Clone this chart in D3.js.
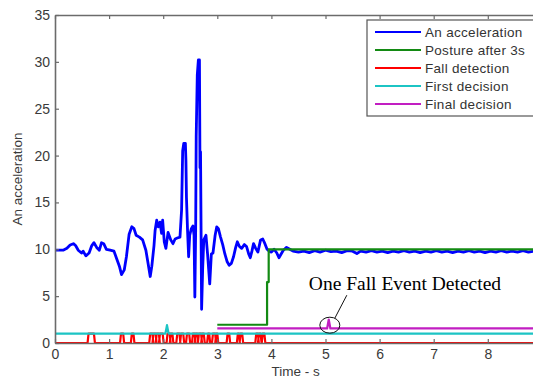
<!DOCTYPE html>
<html>
<head>
<meta charset="utf-8">
<script src="https://cdn.jsdelivr.net/npm/d3@7"></script>
<style>
  body { margin: 0; background: #fff; }
  svg { display: block; font-family: "Liberation Sans", Arial, sans-serif; }
</style>
</head>
<body>
<svg id="chart" width="533" height="380"></svg>
<script>
// acceleration trace [time s, value]
const accel = [
  [0, 9.9], [0.03, 9.9], [0.15, 9.9], [0.22, 10.1], [0.28, 10.45], [0.34, 10.6], [0.38, 10.4],
  [0.43, 9.9], [0.49, 9.6], [0.52, 9.8], [0.57, 9.3], [0.63, 9.6], [0.68, 10.4], [0.72, 10.7],
  [0.77, 10.2], [0.82, 9.9], [0.86, 10.7], [0.9, 10.6], [0.95, 10.0], [1.02, 9.9], [1.09, 9.8],
  [1.14, 9.0], [1.19, 8.2], [1.23, 7.3], [1.28, 7.8], [1.32, 9.2], [1.37, 11.6], [1.42, 12.4],
  [1.46, 12.2], [1.5, 11.5], [1.56, 11.3], [1.62, 11.0], [1.68, 9.9], [1.72, 8.5], [1.76, 7.1],
  [1.79, 8.2], [1.83, 10.4], [1.85, 12.0], [1.88, 13.1], [1.91, 12.4], [1.94, 12.9], [1.97, 11.7],
  [1.99, 13.1], [2.02, 10.8], [2.05, 10.1], [2.09, 11.8], [2.14, 11.0], [2.18, 10.6], [2.22, 11.1],
  [2.26, 11.2], [2.31, 11.3], [2.34, 14.2], [2.36, 20.5], [2.38, 21.3], [2.41, 21.3], [2.42, 19.5],
  [2.43, 15.5], [2.45, 12.0], [2.47, 9.2], [2.49, 11.5], [2.52, 12.2], [2.55, 12.5], [2.57, 11.5],
  [2.585, 4.9], [2.6, 12.0], [2.61, 22.0], [2.63, 28.6], [2.65, 30.2], [2.67, 30.2], [2.68, 18.7],
  [2.69, 20.4], [2.71, 3.6], [2.73, 8.0], [2.75, 11.0], [2.79, 11.5], [2.82, 9.5], [2.86, 6.3],
  [2.89, 9.5], [2.92, 9.6], [2.96, 11.5], [2.99, 12.4], [3.02, 12.2], [3.06, 11.3], [3.1, 10.5],
  [3.14, 9.5], [3.18, 8.7], [3.22, 8.3], [3.26, 8.5], [3.3, 9.2], [3.34, 10.2], [3.37, 10.8],
  [3.41, 10.3], [3.45, 10.1], [3.5, 10.5], [3.54, 10.3], [3.58, 9.5], [3.61, 9.1], [3.64, 9.8],
  [3.67, 10.6], [3.71, 10.1], [3.75, 9.7], [3.8, 11.0], [3.84, 11.1], [3.88, 10.6], [3.92, 10.0],
  [3.96, 9.8], [4.0, 9.7], [4.05, 10.0], [4.1, 9.6], [4.14, 9.1], [4.18, 9.5], [4.22, 9.9],
  [4.28, 10.2], [4.34, 10.0], [4.4, 9.8], [4.5, 9.7], [4.6, 9.8], [4.7, 9.65], [4.8, 9.85],
  [4.9, 9.7], [5.0, 9.9], [5.1, 9.75], [5.2, 9.8], [5.3, 9.65], [5.4, 9.85], [5.5, 9.8],
  [5.58, 9.55], [5.65, 9.8], [5.75, 9.7], [5.85, 9.85], [5.95, 9.7], [6.05, 9.8], [6.15, 9.65],
  [6.25, 9.8], [6.35, 9.7], [6.45, 9.85], [6.55, 9.7], [6.65, 9.8], [6.75, 9.65], [6.85, 9.8],
  [6.95, 9.7], [7.05, 9.85], [7.15, 9.7], [7.25, 9.8], [7.35, 9.65], [7.45, 9.8], [7.55, 9.7],
  [7.65, 9.85], [7.75, 9.7], [7.85, 9.8], [7.95, 9.65], [8.05, 9.8], [8.15, 9.7], [8.25, 9.85],
  [8.35, 9.7], [8.45, 9.8], [8.55, 9.7], [8.65, 9.85], [8.75, 9.7], [8.85, 9.8], [8.95, 9.7]
];

const posture = [[3.0, 1.95], [3.92, 1.95], [3.92, 6.5], [3.95, 6.5], [3.95, 10.0], [9.0, 10.0]];

// fall detection is 0/1, high during these intervals
const fallPulses = [
  [0.62, 0.72], [1.22, 1.26], [1.42, 1.45], [1.76, 1.80], [1.82, 1.86], [1.88, 1.92],
  [1.94, 1.99], [2.08, 2.12], [2.14, 2.17], [2.26, 2.30], [2.33, 2.37], [2.44, 2.48],
  [2.55, 2.58], [2.60, 2.63], [2.66, 2.70], [2.72, 2.75], [2.83, 2.85], [2.92, 2.96],
  [2.98, 3.0], [3.19, 3.22], [3.38, 3.40], [3.43, 3.46], [3.72, 3.75], [3.77, 3.80], [3.84, 3.87]
];

const firstDecision = [[0, 1], [2.04, 1], [2.07, 1.9], [2.1, 1], [9, 1]];
const finalDecision = [[3.0, 1.55], [5.03, 1.55], [5.06, 2.5], [5.09, 1.55], [9, 1.55]];

const xTicks = [0, 1, 2, 3, 4, 5, 6, 7, 8];
const yTicks = [0, 5, 10, 15, 20, 25, 30, 35];

const seriesNames = ['An acceleration', 'Posture after 3s', 'Fall detection', 'First decision', 'Final decision'];
const seriesColors = ['#0000ff', '#138a13', '#ff0000', '#1cc4c4', '#c21ec2'];

const fall = [[0, 0]];
fallPulses.forEach(([s, e]) => {
  fall.push([s - 0.018, 0], [s, 1], [e, 1], [e + 0.018, 0]);
});
fall.push([9, 0]);

const svg = d3.select('#chart');
const plotLeft = 55, plotTop = 15, plotBottom = 343;

const x = d3.scaleLinear().domain([0, 9]).range([plotLeft, plotLeft + 9 * 54.1]);
const y = d3.scaleLinear().domain([0, 35]).range([plotBottom, plotTop]);

svg.append('defs').append('clipPath').attr('id', 'plotclip')
  .append('rect').attr('x', plotLeft).attr('y', plotTop)
  .attr('width', x(9) - plotLeft).attr('height', plotBottom - plotTop + 2);

const line = d3.line().x(d => x(d[0])).y(d => y(d[1]));
const plot = svg.append('g').attr('clip-path', 'url(#plotclip)');

const allSeries = [accel, posture, fall, firstDecision, finalDecision];
const widths = [2.8, 2.2, 2.2, 2.2, 2.2];
allSeries.forEach((s, i) => {
  plot.append('path')
    .attr('d', line(s))
    .attr('fill', 'none')
    .attr('stroke', seriesColors[i])
    .attr('stroke-width', widths[i])
    .attr('stroke-linejoin', 'round');
});

// axes, matlab style with inward ticks
const axisColor = '#6b6b6b';
const styleAxis = g => {
  g.select('.domain').attr('stroke', axisColor).attr('stroke-width', 1.6);
  g.selectAll('.tick line').attr('stroke', axisColor).attr('stroke-width', 1.2);
  g.selectAll('.tick text').attr('fill', '#3a3a3a').style('font-size', '14px');
};

svg.append('g')
  .attr('transform', `translate(0,${plotBottom})`)
  .call(d3.axisBottom(x).tickValues(xTicks).tickSizeInner(-4).tickSizeOuter(0).tickPadding(6))
  .call(styleAxis);

svg.append('g')
  .attr('transform', `translate(0,${plotTop})`)
  .call(d3.axisTop(x).tickValues(xTicks).tickSizeInner(-4).tickSizeOuter(0).tickFormat(''))
  .call(styleAxis);

svg.append('g')
  .attr('transform', `translate(${plotLeft},0)`)
  .call(d3.axisLeft(y).tickValues(yTicks).tickSizeInner(-4).tickSizeOuter(0).tickPadding(5))
  .call(styleAxis);

svg.append('text')
  .attr('x', x(4.45)).attr('y', 376)
  .attr('text-anchor', 'middle')
  .attr('fill', '#3a3a3a')
  .style('font-size', '13.5px')
  .text('Time - s');

svg.append('text')
  .attr('transform', `translate(22,${y(17.5)}) rotate(-90)`)
  .attr('text-anchor', 'middle')
  .attr('fill', '#3a3a3a')
  .style('font-size', '13.5px')
  .text('An acceleration');

// legend
const legend = svg.append('g').attr('transform', 'translate(367,20)');
legend.append('rect')
  .attr('x', 0).attr('y', 0).attr('width', 200).attr('height', 96)
  .attr('fill', '#fff').attr('stroke', '#555').attr('stroke-width', 1.2);
seriesNames.forEach((name, i) => {
  const ly = 12 + i * 18;
  legend.append('line')
    .attr('x1', 8).attr('x2', 54).attr('y1', ly).attr('y2', ly)
    .attr('stroke', seriesColors[i]).attr('stroke-width', 2.2);
  legend.append('text')
    .attr('x', 58).attr('y', ly + 5)
    .attr('fill', '#333')
    .style('font-size', '13.5px')
    .style('letter-spacing', '0.3px')
    .text(name);
});

// annotation on the final decision spike
const ax = x(5.08), ay = y(1.9);
svg.append('ellipse')
  .attr('cx', ax).attr('cy', ay).attr('rx', 10).attr('ry', 8)
  .attr('fill', 'none').attr('stroke', '#111').attr('stroke-width', 1);
svg.append('line')
  .attr('x1', ax + 5).attr('y1', ay - 7)
  .attr('x2', ax + 17).attr('y2', ay - 30)
  .attr('stroke', '#111').attr('stroke-width', 1);
svg.append('text')
  .attr('x', ax - 21).attr('y', ay - 35)
  .attr('fill', '#000')
  .style('font-family', '"Liberation Serif", "Times New Roman", serif')
  .style('font-size', '19.5px')
  .text('One Fall Event Detected');
</script>
</body>
</html>
